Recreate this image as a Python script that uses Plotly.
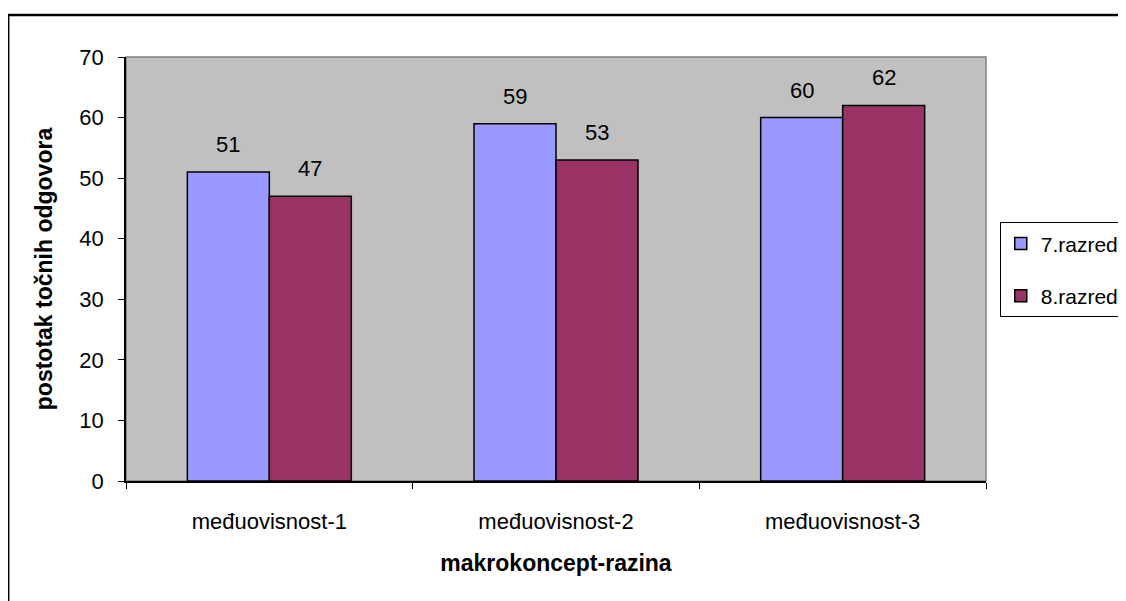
import plotly.graph_objects as go

categories = ['međuovisnost-1', 'međuovisnost-2', 'međuovisnost-3']
razred_7 = [51, 59, 60]
razred_8 = [47, 53, 62]
series_names = ['7.razred', '8.razred']

# the page body adds an 8px offset, so the figure is 8px smaller than the window
W, H = 1118, 593
margin = dict(l=118, r=140, t=49, b=120)
bargap = 0.428
font = 'Liberation Sans, Arial, sans-serif'

fig = go.Figure()
fig.add_trace(go.Bar(x=categories, y=razred_7, name=series_names[0], legendgroup='a',
                     marker=dict(color='#9999FF', line=dict(color='black', width=1.5))))
fig.add_trace(go.Bar(x=categories, y=razred_8, name=series_names[1], legendgroup='b',
                     marker=dict(color='#993366', line=dict(color='black', width=1.5))))

# value labels above bars (shifted half a bar width left/right of the category centre)
plot_w = W - margin['l'] - margin['r']
bar_w = plot_w / len(categories) * (1 - bargap) / 2
annotations = []
for vals, shift in [(razred_7, -bar_w / 2), (razred_8, bar_w / 2)]:
    for c, v in zip(categories, vals):
        annotations.append(dict(x=c, y=v, xref='x', yref='y', text=str(v), showarrow=False,
                                xshift=shift, yshift=13, yanchor='bottom',
                                font=dict(size=22, color='black', family=font)))

fig.update_layout(
    width=W, height=H,
    margin=dict(margin, autoexpand=False),
    paper_bgcolor='white',
    plot_bgcolor='#C0C0C0',
    barmode='group',
    bargap=bargap,
    bargroupgap=0,
    font=dict(family=font, size=22, color='black'),
    showlegend=True,
    legend=dict(x=1.016, xanchor='left', y=0.498, yanchor='middle',
                bordercolor='black', borderwidth=1, bgcolor='white',
                traceorder='grouped', tracegroupgap=22, font=dict(size=21)),
    xaxis=dict(
        title=dict(text='<b>makrokoncept-razina</b>', font=dict(size=23), standoff=22),
        showline=True, linecolor='black', linewidth=1.5,
        ticks='outside', tickson='boundaries', ticklen=6, tickcolor='black',
        ticklabelstandoff=20, showgrid=False,
    ),
    yaxis=dict(
        title=dict(text='<b>postotak točnih odgovora</b>', font=dict(size=23), standoff=20),
        range=[0, 70], dtick=10,
        showline=True, linecolor='black', linewidth=1.5,
        ticks='outside', ticklen=6, tickcolor='black',
        ticklabelstandoff=10, showgrid=False, zeroline=False,
    ),
    annotations=annotations,
    shapes=[
        # gray frame of the plot area
        dict(type='rect', xref='paper', yref='paper', x0=0, x1=1, y0=0, y1=1,
             line=dict(color='#808080', width=1.5), layer='below'),
        # outer chart border (runs off the right and bottom edges)
        dict(type='rect', xref='paper', yref='paper', x0=-0.137, x1=1.2, y0=-0.35, y1=1.099,
             line=dict(color='black', width=2.5)),
    ],
)

fig.write_html('out.html')
